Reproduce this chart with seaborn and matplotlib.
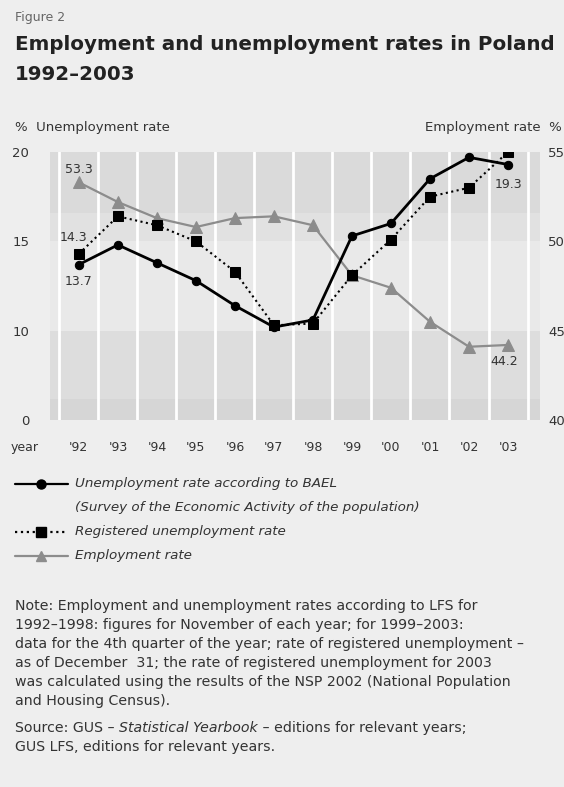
import numpy as np
import pandas as pd
import seaborn as sns
import matplotlib.pyplot as plt

# data
years = ["'92", "'93", "'94", "'95", "'96", "'97", "'98", "'99", "'00", "'01", "'02", "'03"]
bael = [13.7, 14.8, 13.8, 12.8, 11.4, 10.2, 10.6, 15.3, 16.0, 18.5, 19.7, 19.3]
registered = [14.3, 16.4, 15.9, 15.0, 13.3, 10.3, 10.4, 13.1, 15.1, 17.5, 18.0, 20.0]
employment = [53.3, 52.2, 51.3, 50.8, 51.3, 51.4, 50.9, 48.1, 47.4, 45.5, 44.1, 44.2]

left_ticks = [5, 10, 15, 20]          # broken axis: bottom tick stands for 0
left_labels = ["0", "10", "15", "20"]
right_ticks = [40, 45, 50, 55]

df = pd.DataFrame({"x": np.arange(len(years)), "bael": bael,
                   "registered": registered, "employment": employment})

sns.set_style("white")
plt.rcParams["font.family"] = ["DejaVu Sans"]
bg = "#eeeeee"
txt = "#333333"
W, H = 564, 787

fig = plt.figure(figsize=(5.64, 7.87), dpi=100, facecolor=bg)
ax = fig.add_axes([50 / W, 1 - 420 / H, 490 / W, 268 / H])   # employment (right scale)
ax2 = ax.twinx()                                               # unemployment (left scale)

# background bands
bands = [(51.6, 55, "#dadada"), (50, 51.6, "#e1e1e1"), (45, 50, "#e9e9e9"),
         (41.2, 45, "#dddddd"), (40, 41.2, "#d6d6d6")]
for lo, hi, c in bands:
    ax.axhspan(lo, hi, color=c, lw=0, zorder=0)
for k in range(len(years) + 1):
    ax.axvline(k - 0.5, color="white", lw=2, zorder=1)

sns.lineplot(data=df, x="x", y="employment", ax=ax, color="#8c8c8c", lw=1.6,
             marker="^", markersize=8, markeredgecolor="#8c8c8c", zorder=3)
sns.lineplot(data=df, x="x", y="registered", ax=ax2, color="black", lw=1.5,
             ls=":", marker="s", markersize=7.5, markeredgecolor="black", zorder=3)
sns.lineplot(data=df, x="x", y="bael", ax=ax2, color="black", lw=2,
             marker="o", markersize=6, markeredgecolor="black", zorder=4)

ax.set_xlim(-0.74, 11.82)
ax.set_ylim(40, 55)
ax2.set_ylim(5, 20)
ax.set_facecolor(bg)
ax2.patch.set_visible(False)

ax.set_xticks(df["x"])
ax.set_xticklabels(years)
ax.yaxis.tick_right()
ax.set_yticks(right_ticks)
ax2.yaxis.tick_left()
ax2.set_yticks(left_ticks)
ax2.set_yticklabels(left_labels)
ax.tick_params(axis="x", length=0, pad=15, labelsize=9, labelcolor=txt)
ax.tick_params(axis="y", length=0, pad=6, labelsize=9.5, labelcolor=txt)
ax2.tick_params(axis="y", length=0, pad=15, labelsize=9.5, labelcolor=txt)
for a in (ax, ax2):
    a.set_xlabel("")
    a.set_ylabel("")
    for s in a.spines.values():
        s.set_visible(False)

# value labels
lab = dict(fontsize=9, color=txt, ha="center", va="center", textcoords="offset pixels")
ax.annotate("53.3", (0, employment[0]), xytext=(0, 13), **lab)
ax2.annotate("14.3", (0, registered[0]), xytext=(-5, 16), **lab)
ax2.annotate("13.7", (0, bael[0]), xytext=(0, -17), **lab)
ax2.annotate("19.3", (11, bael[-1]), xytext=(0, -20), **lab)
ax.annotate("44.2", (11, employment[-1]), xytext=(-4, -17), **lab)

# headings
fig.text(15 / W, 1 - 18 / H, "Figure 2", fontsize=9, color="#666666", va="center")
fig.text(15 / W, 1 - 45 / H, "Employment and unemployment rates in Poland",
         fontsize=14.3, fontweight="bold", color="#222222", va="center")
fig.text(15 / W, 1 - 75 / H, "1992\u20132003",
         fontsize=14.3, fontweight="bold", color="#222222", va="center")
fig.text(15 / W, 1 - 127 / H, "%  Unemployment rate", fontsize=9.5, color=txt, va="center")
fig.text(562 / W, 1 - 127 / H, "Employment rate  %", fontsize=9.5, color=txt, va="center",
         ha="right")
fig.text(25 / W, 1 - 448 / H, "year", fontsize=9, color=txt, va="center", ha="center")

# legend drawn by hand
def leg_item(y, style, marker, color, label):
    yy = 1 - y / H
    fig.add_artist(plt.Line2D([15 / W, 68 / W], [yy, yy], transform=fig.transFigure,
                              color=color, lw=1.6, ls=style))
    fig.add_artist(plt.Line2D([41 / W], [yy], transform=fig.transFigure, color=color,
                              marker=marker, markersize=6.5, ls=""))
    fig.text(75 / W, yy, label, fontsize=9.7, style="italic", color=txt, va="center")

leg_item(484, "-", "o", "black", "Unemployment rate according to BAEL")
fig.text(75 / W, 1 - 508 / H, "(Survey of the Economic Activity of the population)",
         fontsize=9.7, style="italic", color=txt, va="center")
leg_item(532, ":", "s", "black", "Registered unemployment rate")
leg_item(556, "-", "^", "#8c8c8c", "Employment rate")

# note
fs = 10.2
note = ["Note: Employment and unemployment rates according to LFS for",
        "1992\u20131998: figures for November of each year; for 1999\u20132003:",
        "data for the 4th quarter of the year; rate of registered unemployment \u2013",
        "as of December  31; the rate of registered unemployment for 2003",
        "was calculated using the results of the NSP 2002 (National Population",
        "and Housing Census)."]
for i, line in enumerate(note):
    fig.text(15 / W, 1 - (606 + 19 * i) / H, line, fontsize=fs, color=txt, va="center")

t1 = fig.text(15 / W, 1 - 728 / H, "Source: GUS \u2013 ", fontsize=fs, color=txt, va="center")
t2 = fig.add_artist(plt.Annotation("Statistical Yearbook", xy=(1, 0), xycoords=t1,
                                   va="bottom", ha="left", fontsize=fs, color=txt,
                                   style="italic"))
fig.add_artist(plt.Annotation(" \u2013 editions for relevant years;", xy=(1, 0), xycoords=t2,
                              va="bottom", ha="left", fontsize=fs, color=txt))
fig.text(15 / W, 1 - 747 / H, "GUS LFS, editions for relevant years.", fontsize=fs,
         color=txt, va="center")

fig.savefig("out.png", dpi=100, facecolor=bg)
